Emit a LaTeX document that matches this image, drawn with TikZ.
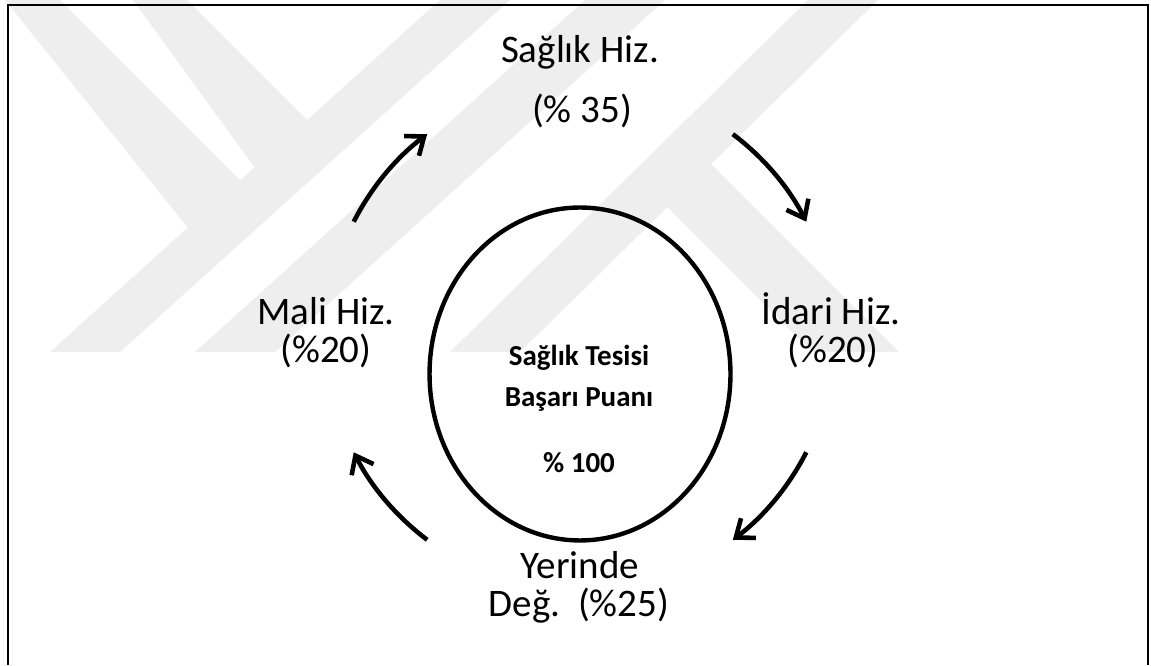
\documentclass[tikz,border=0pt]{standalone}
\usepackage{fontspec}
\setmainfont{Carlito}
\usetikzlibrary{arrows.meta,shapes.geometric}
\definecolor{wmark}{gray}{0.935}
\tikzset{
  lbl/.style={anchor=base,inner sep=0pt,font=\fontsize{22.2}{26}\selectfont},
  inlbl/.style={anchor=base,inner sep=0pt,font=\fontsize{16.5}{20}\selectfont\bfseries},
  core/.style={draw,ellipse,line width=2.5pt,minimum width=6.02cm,minimum height=6.66cm,inner sep=0pt},
  flow/.style={line width=2.6pt,-{Straight Barb[length=9pt,width=14pt]}},
  band/.style={fill=wmark,draw=none}
}

\begin{document}
\begin{tikzpicture}[x=0.02cm,y=0.02cm]
  \useasboundingbox (0,0) rectangle (1151,665);
  \fill[band] (50,313) -- (120,313) -- (510,665) -- (440,665) -- cycle;
  \fill[band] (195,313) -- (275,313) -- (665,665) -- (585,665) -- cycle;
  \fill[band] (450,313) -- (520,313) -- (878,665) -- (808,665) -- cycle;
  \fill[band] (5,665) -- (60,665) -- (265,460) -- (212,407) -- cycle;
  \fill[band] (133,665) -- (187,665) -- (330,522) -- (276,468) -- cycle;
  \fill[band] (687,525) -- (899,313) -- (812,313) -- (660,465) -- cycle;
  \draw[line width=1.1pt] (8,0) -- (8,660) -- (1148,660) -- (1148,0);

  \node[core] (tesis) at (580,291) {};
  \node[inlbl] (tesis1) at (579,299) {Sağlık Tesisi};
  \node[inlbl] (tesis2) at (579,258) {Başarı Puanı};
  \node[inlbl] (tesis3) at (579,192) {\% 100};

  \node[lbl] (saglik) at (580,602) {Sağlık Hiz.};
  \node[lbl] (saglikp) at (582,542) {(\% 35)};
  \node[lbl] (idari) at (831,340) {İdari Hiz.};
  \node[lbl] (idarip) at (833,302) {(\%20)};
  \node[lbl] (yerinde) at (580,86) {Yerinde};
  \node[lbl] (yerindep) at (579,48) {Değ.\ \ (\%25)};
  \node[lbl] (mali) at (326,340) {Mali Hiz.};
  \node[lbl] (malip) at (326,302) {(\%20)};

  \coordinate (hub) at (580,328);
  \path (hub) ++(153:5.08cm) coordinate (m2s);
  \path (hub) ++(53:5.08cm) coordinate (s2i);
  \path (hub) ++(-27:5.08cm) coordinate (i2y);
  \path (hub) ++(233:5.08cm) coordinate (y2m);
  \draw[flow] (m2s) arc[start angle=153,end angle=127,radius=5.08cm];
  \draw[flow] (s2i) arc[start angle=53,end angle=27,radius=5.08cm];
  \draw[flow] (i2y) arc[start angle=-27,end angle=-53,radius=5.08cm];
  \draw[flow] (y2m) arc[start angle=233,end angle=207,radius=5.08cm];
\end{tikzpicture}
\end{document}
